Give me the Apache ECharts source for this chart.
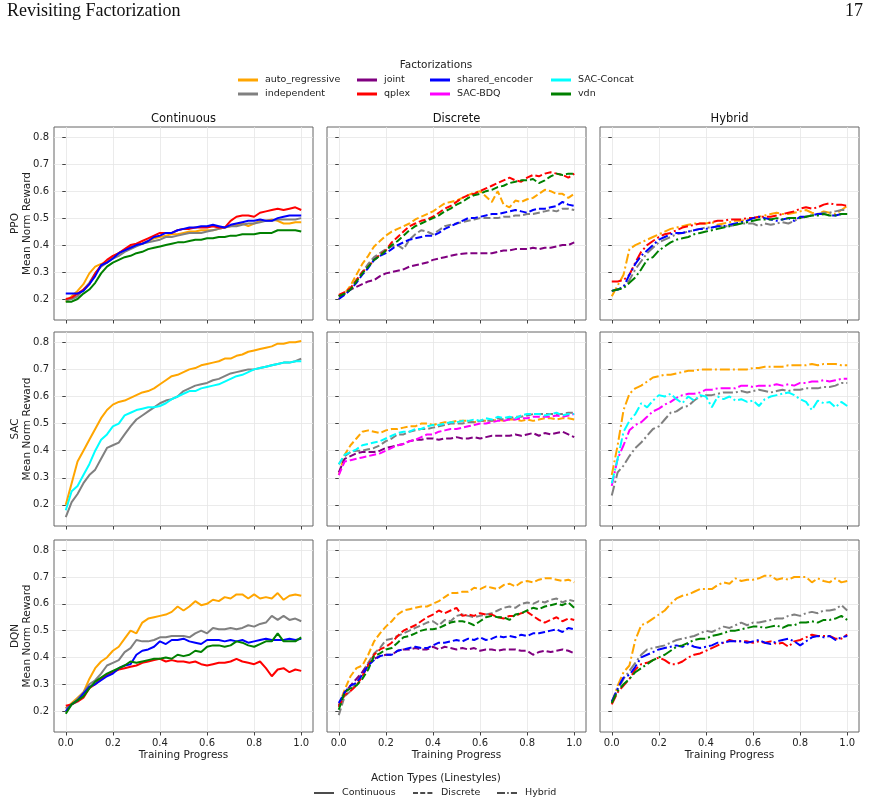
<!DOCTYPE html>
<html>
<head>
<meta charset="utf-8">
<script src="https://cdn.jsdelivr.net/npm/echarts@6/dist/echarts.min.js"></script>
<style>
  html, body { margin: 0; padding: 0; background: #fff; }
  #chart { width: 870px; height: 805px; }
</style>
</head>
<body>
<div id="chart"></div>
<script>
// x positions of the checkpoints (training progress)
const progress = [0, 0.025, 0.05, 0.075, 0.1, 0.125, 0.15, 0.175, 0.2, 0.225,
  0.25, 0.275, 0.3, 0.325, 0.35, 0.375, 0.4, 0.425, 0.45, 0.475,
  0.5, 0.525, 0.55, 0.575, 0.6, 0.625, 0.65, 0.675, 0.7, 0.725,
  0.75, 0.775, 0.8, 0.825, 0.85, 0.875, 0.9, 0.925, 0.95, 0.975, 1];

const xTicks = [0, 0.2, 0.4, 0.6, 0.8, 1];
const yTicks = [0.2, 0.3, 0.4, 0.5, 0.6, 0.7, 0.8];

const algoNames = ['PPO', 'SAC', 'DQN'];
const actionNames = ['Continuous', 'Discrete', 'Hybrid'];

// ---- PPO ----
const ppoContAuto = [0.19,0.21,0.23,0.255,0.295,0.32,0.33,0.335,0.355,0.37, 0.38,0.395,0.4,0.405,0.415,0.425,0.43,0.435,0.44,0.44, 0.445,0.45,0.45,0.455,0.455,0.455,0.46,0.465,0.47,0.475, 0.48,0.47,0.48,0.49,0.49,0.495,0.49,0.48,0.48,0.485, 0.485];
const ppoContInd = [0.195,0.2,0.21,0.235,0.26,0.295,0.32,0.335,0.35,0.36, 0.375,0.385,0.395,0.405,0.41,0.415,0.42,0.43,0.43,0.435, 0.44,0.445,0.445,0.445,0.45,0.455,0.46,0.465,0.47,0.47, 0.475,0.48,0.48,0.485,0.49,0.49,0.495,0.495,0.495,0.495, 0.5];
const ppoContQplex = [0.2,0.205,0.22,0.235,0.255,0.295,0.325,0.345,0.36,0.37, 0.385,0.4,0.405,0.415,0.425,0.435,0.445,0.445,0.445,0.455, 0.46,0.46,0.465,0.465,0.465,0.47,0.465,0.465,0.49,0.505, 0.51,0.51,0.505,0.52,0.525,0.53,0.535,0.53,0.535,0.54, 0.53];
const ppoContShared = [0.22,0.22,0.22,0.23,0.255,0.285,0.325,0.335,0.35,0.37, 0.38,0.39,0.4,0.405,0.415,0.43,0.435,0.445,0.445,0.455, 0.46,0.465,0.465,0.47,0.47,0.475,0.47,0.465,0.475,0.48, 0.485,0.49,0.49,0.495,0.49,0.49,0.5,0.505,0.51,0.51, 0.51];
const ppoContVdn = [0.19,0.19,0.2,0.22,0.235,0.26,0.295,0.32,0.335,0.345, 0.355,0.36,0.37,0.375,0.385,0.39,0.395,0.4,0.405,0.41, 0.41,0.415,0.42,0.42,0.425,0.425,0.43,0.43,0.435,0.435, 0.44,0.44,0.44,0.445,0.445,0.445,0.455,0.455,0.455,0.455, 0.45];

const ppoDiscAuto = [0.2,0.22,0.25,0.29,0.33,0.36,0.395,0.415,0.435,0.45, 0.46,0.47,0.48,0.495,0.505,0.515,0.525,0.54,0.555,0.56, 0.565,0.575,0.585,0.595,0.6,0.58,0.56,0.6,0.55,0.54, 0.565,0.56,0.57,0.575,0.59,0.605,0.6,0.59,0.59,0.575, 0.59];
const ppoDiscInd = [0.21,0.22,0.24,0.27,0.3,0.33,0.355,0.37,0.385,0.395, 0.4,0.385,0.42,0.44,0.455,0.45,0.44,0.455,0.47,0.475, 0.48,0.485,0.49,0.495,0.5,0.5,0.5,0.5,0.505,0.505, 0.51,0.51,0.515,0.515,0.52,0.525,0.53,0.525,0.535,0.535, 0.53];
const ppoDiscJoint = [0.21,0.22,0.235,0.245,0.255,0.265,0.27,0.285,0.295,0.3, 0.305,0.31,0.32,0.325,0.33,0.335,0.345,0.35,0.355,0.36, 0.365,0.368,0.37,0.37,0.37,0.37,0.37,0.375,0.38,0.38, 0.385,0.385,0.385,0.39,0.385,0.39,0.39,0.395,0.4,0.4, 0.41];
const ppoDiscQplex = [0.215,0.225,0.24,0.27,0.3,0.32,0.345,0.365,0.38,0.41, 0.43,0.45,0.47,0.48,0.49,0.495,0.505,0.52,0.535,0.545, 0.56,0.575,0.585,0.59,0.6,0.61,0.62,0.63,0.64,0.65, 0.64,0.635,0.65,0.66,0.655,0.665,0.67,0.665,0.66,0.65, 0.665];
const ppoDiscShared = [0.2,0.215,0.235,0.26,0.29,0.315,0.345,0.36,0.37,0.385, 0.4,0.41,0.42,0.425,0.43,0.435,0.435,0.445,0.46,0.47, 0.48,0.49,0.5,0.5,0.505,0.51,0.515,0.515,0.52,0.525, 0.53,0.525,0.52,0.53,0.535,0.535,0.54,0.545,0.56,0.55, 0.545];
const ppoDiscVdn = [0.21,0.22,0.235,0.265,0.295,0.32,0.345,0.36,0.38,0.4, 0.415,0.435,0.455,0.47,0.48,0.49,0.5,0.51,0.525,0.535, 0.55,0.56,0.575,0.585,0.59,0.6,0.605,0.615,0.62,0.63, 0.635,0.64,0.64,0.645,0.63,0.64,0.655,0.665,0.66,0.665, 0.665];

const ppoHybAuto = [0.21,0.25,0.29,0.385,0.4,0.41,0.42,0.43,0.44,0.45, 0.46,0.465,0.47,0.475,0.48,0.48,0.48,0.485,0.475,0.48, 0.485,0.49,0.49,0.495,0.5,0.505,0.51,0.515,0.52,0.515, 0.515,0.52,0.525,0.53,0.52,0.515,0.525,0.52,0.515,0.53, 0.545];
const ppoHybInd = [0.23,0.235,0.245,0.27,0.31,0.34,0.37,0.39,0.41,0.42, 0.43,0.44,0.445,0.45,0.455,0.46,0.465,0.465,0.47,0.47, 0.47,0.475,0.48,0.48,0.48,0.47,0.48,0.475,0.48,0.485, 0.48,0.49,0.5,0.505,0.51,0.515,0.52,0.52,0.525,0.53, 0.53];
const ppoHybQplex = [0.265,0.265,0.27,0.29,0.335,0.375,0.4,0.415,0.43,0.44, 0.445,0.455,0.465,0.47,0.475,0.48,0.48,0.485,0.49,0.49, 0.495,0.495,0.495,0.5,0.5,0.505,0.505,0.505,0.51,0.515, 0.52,0.525,0.535,0.54,0.535,0.54,0.55,0.555,0.55,0.55, 0.545];
const ppoHybShared = [0.23,0.235,0.245,0.29,0.33,0.36,0.38,0.4,0.42,0.43, 0.44,0.445,0.445,0.45,0.455,0.46,0.46,0.465,0.47,0.47, 0.475,0.48,0.485,0.49,0.5,0.505,0.5,0.495,0.49,0.495, 0.5,0.49,0.505,0.505,0.51,0.515,0.515,0.51,0.51,0.515, 0.515];
const ppoHybVdn = [0.23,0.235,0.24,0.26,0.28,0.31,0.345,0.355,0.38,0.395, 0.41,0.42,0.425,0.43,0.44,0.445,0.45,0.455,0.46,0.465, 0.47,0.475,0.48,0.485,0.49,0.495,0.495,0.495,0.5,0.495, 0.5,0.5,0.5,0.505,0.51,0.51,0.515,0.51,0.51,0.515, 0.515];

// ---- SAC ----
const sacContAuto = [0.2,0.28,0.36,0.4,0.44,0.48,0.52,0.55,0.57,0.58, 0.585,0.595,0.605,0.615,0.62,0.63,0.645,0.66,0.675,0.68, 0.69,0.7,0.705,0.715,0.72,0.725,0.73,0.74,0.74,0.75, 0.755,0.765,0.77,0.775,0.78,0.785,0.795,0.795,0.8,0.8, 0.805];
const sacContInd = [0.155,0.21,0.24,0.28,0.31,0.33,0.37,0.41,0.42,0.43, 0.46,0.49,0.515,0.53,0.545,0.56,0.575,0.585,0.59,0.6, 0.62,0.63,0.64,0.645,0.65,0.66,0.665,0.675,0.685,0.69, 0.695,0.7,0.7,0.705,0.71,0.715,0.72,0.725,0.725,0.73, 0.74];
const sacContConcat = [0.18,0.25,0.27,0.31,0.35,0.4,0.44,0.46,0.49,0.5, 0.53,0.54,0.55,0.555,0.56,0.56,0.565,0.575,0.59,0.6, 0.61,0.62,0.62,0.63,0.635,0.64,0.645,0.655,0.665,0.675, 0.68,0.69,0.7,0.705,0.71,0.715,0.72,0.725,0.725,0.73, 0.73];

const sacDiscAuto = [0.31,0.385,0.42,0.445,0.47,0.475,0.47,0.465,0.475,0.48, 0.48,0.485,0.49,0.49,0.5,0.5,0.495,0.5,0.505,0.505, 0.51,0.51,0.51,0.505,0.51,0.51,0.51,0.515,0.51,0.515, 0.515,0.51,0.515,0.51,0.515,0.52,0.52,0.515,0.52,0.52, 0.515];
const sacDiscInd = [0.35,0.38,0.395,0.4,0.4,0.405,0.41,0.42,0.435,0.445, 0.46,0.46,0.47,0.475,0.48,0.48,0.485,0.49,0.495,0.5, 0.5,0.5,0.505,0.505,0.51,0.51,0.51,0.52,0.515,0.52, 0.525,0.525,0.53,0.535,0.535,0.535,0.535,0.535,0.535,0.54, 0.54];
const sacDiscJoint = [0.32,0.37,0.38,0.39,0.395,0.395,0.395,0.4,0.41,0.415, 0.42,0.425,0.435,0.44,0.44,0.445,0.445,0.44,0.445,0.445, 0.45,0.445,0.445,0.45,0.445,0.45,0.455,0.455,0.455,0.455, 0.46,0.455,0.46,0.465,0.455,0.465,0.46,0.465,0.47,0.46, 0.45];
const sacDiscBdq = [0.31,0.36,0.365,0.37,0.375,0.38,0.385,0.39,0.4,0.41, 0.42,0.425,0.435,0.44,0.45,0.46,0.46,0.47,0.475,0.48, 0.48,0.485,0.49,0.495,0.5,0.5,0.505,0.51,0.51,0.515, 0.515,0.52,0.52,0.525,0.525,0.525,0.525,0.53,0.525,0.53, 0.535];
const sacDiscConcat = [0.35,0.385,0.395,0.405,0.42,0.425,0.43,0.435,0.445,0.455, 0.465,0.47,0.47,0.48,0.48,0.49,0.495,0.495,0.5,0.505, 0.505,0.51,0.51,0.515,0.51,0.52,0.515,0.525,0.52,0.525, 0.52,0.53,0.535,0.535,0.535,0.53,0.535,0.54,0.53,0.535, 0.535];

const sacHybAuto = [0.31,0.42,0.55,0.61,0.63,0.64,0.655,0.67,0.675,0.68, 0.68,0.685,0.69,0.695,0.695,0.7,0.7,0.7,0.7,0.7, 0.7,0.7,0.7,0.7,0.705,0.705,0.71,0.71,0.71,0.71, 0.715,0.715,0.715,0.715,0.72,0.715,0.72,0.72,0.72,0.715, 0.715];
const sacHybInd = [0.235,0.32,0.345,0.38,0.41,0.43,0.455,0.48,0.49,0.515, 0.54,0.545,0.56,0.565,0.585,0.6,0.605,0.605,0.61,0.615, 0.615,0.615,0.62,0.615,0.62,0.625,0.62,0.615,0.62,0.625, 0.62,0.625,0.625,0.63,0.63,0.63,0.635,0.635,0.64,0.65, 0.65];
const sacHybBdq = [0.27,0.37,0.42,0.475,0.495,0.505,0.525,0.545,0.555,0.57, 0.58,0.595,0.605,0.61,0.61,0.615,0.625,0.625,0.63,0.63, 0.63,0.63,0.64,0.64,0.635,0.64,0.64,0.64,0.645,0.64, 0.645,0.64,0.65,0.65,0.655,0.655,0.66,0.655,0.66,0.665, 0.665];
const sacHybConcat = [0.28,0.37,0.47,0.51,0.535,0.575,0.56,0.585,0.605,0.6, 0.61,0.59,0.575,0.6,0.585,0.605,0.6,0.56,0.6,0.59, 0.6,0.585,0.59,0.58,0.585,0.565,0.59,0.6,0.605,0.61, 0.615,0.605,0.59,0.58,0.55,0.585,0.575,0.58,0.56,0.58, 0.565];

// ---- DQN ----
const dqnContAuto = [0.21,0.23,0.25,0.27,0.32,0.36,0.385,0.4,0.425,0.44, 0.47,0.5,0.49,0.53,0.545,0.55,0.555,0.56,0.57,0.59, 0.575,0.59,0.61,0.595,0.6,0.615,0.61,0.625,0.62,0.635, 0.635,0.62,0.635,0.62,0.625,0.62,0.64,0.615,0.63,0.635, 0.63];
const dqnContInd = [0.21,0.225,0.245,0.27,0.3,0.315,0.34,0.37,0.38,0.39, 0.42,0.435,0.465,0.46,0.46,0.465,0.475,0.475,0.48,0.48, 0.48,0.475,0.49,0.5,0.49,0.51,0.505,0.505,0.51,0.505, 0.51,0.52,0.515,0.525,0.53,0.555,0.54,0.555,0.54,0.545, 0.535];
const dqnContQplex = [0.22,0.225,0.235,0.25,0.285,0.3,0.32,0.335,0.345,0.355, 0.36,0.365,0.37,0.38,0.385,0.39,0.395,0.385,0.39,0.385, 0.385,0.38,0.385,0.375,0.37,0.375,0.38,0.38,0.385,0.395, 0.385,0.38,0.375,0.385,0.36,0.33,0.355,0.36,0.345,0.355, 0.35];
const dqnContShared = [0.2,0.225,0.24,0.265,0.29,0.3,0.315,0.33,0.34,0.36, 0.37,0.375,0.41,0.425,0.43,0.44,0.46,0.45,0.465,0.465, 0.47,0.46,0.455,0.45,0.465,0.465,0.465,0.46,0.465,0.46, 0.465,0.455,0.46,0.465,0.47,0.465,0.465,0.465,0.47,0.465, 0.47];
const dqnContVdn = [0.19,0.225,0.24,0.255,0.285,0.31,0.325,0.34,0.35,0.36, 0.37,0.385,0.38,0.385,0.39,0.395,0.395,0.4,0.395,0.41, 0.405,0.41,0.425,0.42,0.44,0.445,0.445,0.44,0.445,0.46, 0.455,0.445,0.44,0.45,0.46,0.46,0.49,0.46,0.46,0.46, 0.475];

const dqnDiscAuto = [0.22,0.28,0.33,0.36,0.37,0.41,0.46,0.49,0.515,0.535, 0.56,0.575,0.58,0.585,0.59,0.59,0.6,0.61,0.625,0.64, 0.64,0.645,0.645,0.66,0.655,0.665,0.66,0.655,0.67,0.675, 0.665,0.68,0.685,0.68,0.69,0.695,0.695,0.69,0.685,0.69, 0.68];
const dqnDiscInd = [0.185,0.255,0.275,0.305,0.345,0.38,0.415,0.435,0.465,0.47, 0.48,0.49,0.5,0.51,0.52,0.53,0.535,0.52,0.54,0.535, 0.555,0.56,0.555,0.55,0.555,0.56,0.565,0.575,0.585,0.59, 0.585,0.6,0.605,0.6,0.61,0.605,0.615,0.62,0.605,0.615, 0.61];
const dqnDiscJoint = [0.22,0.27,0.295,0.32,0.345,0.375,0.395,0.405,0.41,0.41, 0.425,0.43,0.43,0.435,0.43,0.43,0.44,0.43,0.44,0.435, 0.43,0.435,0.43,0.435,0.425,0.43,0.43,0.425,0.43,0.43, 0.43,0.425,0.425,0.41,0.42,0.425,0.42,0.425,0.43,0.425, 0.415];
const dqnDiscQplex = [0.215,0.26,0.275,0.295,0.33,0.37,0.41,0.43,0.44,0.455, 0.48,0.5,0.51,0.52,0.535,0.55,0.56,0.575,0.565,0.575, 0.585,0.555,0.56,0.555,0.565,0.56,0.56,0.55,0.545,0.555, 0.555,0.565,0.57,0.555,0.54,0.53,0.54,0.55,0.535,0.545, 0.54];
const dqnDiscShared = [0.23,0.27,0.295,0.305,0.335,0.37,0.39,0.405,0.41,0.41, 0.425,0.43,0.435,0.44,0.435,0.435,0.445,0.455,0.455,0.46, 0.465,0.46,0.47,0.465,0.475,0.465,0.47,0.48,0.475,0.48, 0.475,0.485,0.48,0.49,0.49,0.495,0.5,0.505,0.495,0.51, 0.505];
const dqnDiscVdn = [0.205,0.27,0.285,0.295,0.32,0.355,0.405,0.415,0.43,0.435, 0.455,0.475,0.48,0.49,0.5,0.505,0.505,0.51,0.52,0.53, 0.535,0.535,0.53,0.52,0.535,0.55,0.555,0.55,0.55,0.54, 0.56,0.565,0.575,0.585,0.58,0.59,0.595,0.6,0.595,0.605, 0.585];

const dqnHybAuto = [0.23,0.295,0.345,0.37,0.465,0.52,0.53,0.545,0.56,0.575, 0.6,0.62,0.63,0.635,0.645,0.655,0.655,0.655,0.67,0.68, 0.675,0.695,0.685,0.69,0.69,0.695,0.705,0.705,0.69,0.695, 0.69,0.7,0.7,0.7,0.68,0.695,0.685,0.68,0.695,0.68, 0.685];
const dqnHybInd = [0.235,0.28,0.32,0.35,0.38,0.41,0.43,0.435,0.44,0.445, 0.455,0.465,0.47,0.475,0.48,0.49,0.5,0.495,0.505,0.515, 0.51,0.52,0.53,0.52,0.53,0.53,0.535,0.54,0.545,0.545, 0.555,0.56,0.555,0.565,0.57,0.565,0.575,0.575,0.58,0.595, 0.575];
const dqnHybQplex = [0.225,0.27,0.295,0.32,0.355,0.375,0.38,0.39,0.4,0.39, 0.375,0.375,0.385,0.4,0.41,0.415,0.425,0.435,0.445,0.455, 0.465,0.46,0.46,0.46,0.455,0.46,0.455,0.46,0.45,0.455, 0.44,0.46,0.465,0.475,0.485,0.48,0.48,0.48,0.47,0.47, 0.485];
const dqnHybShared = [0.235,0.285,0.325,0.335,0.365,0.4,0.41,0.42,0.43,0.435, 0.44,0.445,0.44,0.45,0.44,0.435,0.44,0.445,0.455,0.455, 0.46,0.46,0.46,0.455,0.46,0.465,0.455,0.45,0.46,0.465, 0.47,0.46,0.445,0.46,0.475,0.48,0.475,0.48,0.465,0.475, 0.48];
const dqnHybVdn = [0.23,0.275,0.3,0.32,0.345,0.36,0.375,0.39,0.4,0.41, 0.425,0.44,0.445,0.455,0.465,0.47,0.47,0.48,0.485,0.49, 0.5,0.5,0.505,0.51,0.515,0.515,0.51,0.515,0.52,0.51, 0.52,0.52,0.53,0.53,0.535,0.53,0.54,0.54,0.545,0.555, 0.54];

const colors = {
  auto_regressive: '#ffa500', independent: '#808080', joint: '#800080', qplex: '#ff0000',
  shared_encoder: '#0000ff', 'SAC-BDQ': '#ff00ff', 'SAC-Concat': '#00ffff', vdn: '#008000'
};
const dashes = [[], [7, 3], [10, 3, 2, 3]];   // continuous / discrete / hybrid

const panels = [
  [['auto_regressive', ppoContAuto], ['independent', ppoContInd], ['qplex', ppoContQplex], ['shared_encoder', ppoContShared], ['vdn', ppoContVdn]],
  [['auto_regressive', ppoDiscAuto], ['independent', ppoDiscInd], ['joint', ppoDiscJoint], ['qplex', ppoDiscQplex], ['shared_encoder', ppoDiscShared], ['vdn', ppoDiscVdn]],
  [['auto_regressive', ppoHybAuto], ['independent', ppoHybInd], ['qplex', ppoHybQplex], ['shared_encoder', ppoHybShared], ['vdn', ppoHybVdn]],
  [['auto_regressive', sacContAuto], ['independent', sacContInd], ['SAC-Concat', sacContConcat]],
  [['auto_regressive', sacDiscAuto], ['independent', sacDiscInd], ['joint', sacDiscJoint], ['SAC-BDQ', sacDiscBdq], ['SAC-Concat', sacDiscConcat]],
  [['auto_regressive', sacHybAuto], ['independent', sacHybInd], ['SAC-BDQ', sacHybBdq], ['SAC-Concat', sacHybConcat]],
  [['auto_regressive', dqnContAuto], ['independent', dqnContInd], ['qplex', dqnContQplex], ['shared_encoder', dqnContShared], ['vdn', dqnContVdn]],
  [['auto_regressive', dqnDiscAuto], ['independent', dqnDiscInd], ['joint', dqnDiscJoint], ['qplex', dqnDiscQplex], ['shared_encoder', dqnDiscShared], ['vdn', dqnDiscVdn]],
  [['auto_regressive', dqnHybAuto], ['independent', dqnHybInd], ['qplex', dqnHybQplex], ['shared_encoder', dqnHybShared], ['vdn', dqnHybVdn]]
];

const gridLeft = [54, 327, 600];
const gridTop = [127, 332, 540];
const gridH = [193, 194, 192];
const gridW = 259;

let grids = [], xAxes = [], yAxes = [], series = [];
panels.forEach((lines, i) => {
  const row = Math.floor(i / 3), col = i % 3;
  grids.push({
    left: gridLeft[col], top: gridTop[row], width: gridW, height: gridH[row],
    show: true, borderColor: '#666', borderWidth: 1
  });
  xAxes.push({
    gridIndex: i, type: 'value', min: -0.05, max: 1.05,
    axisLine: {show: false},
    axisTick: {show: true, length: 3.5, customValues: xTicks, lineStyle: {color: '#444'}},
    axisLabel: {show: row === 2, customValues: xTicks, formatter: v => v.toFixed(1), fontSize: 10, color: '#222', margin: 6},
    splitLine: {show: true, lineStyle: {color: '#e6e6e6', width: 0.8}},
    name: row === 2 ? 'Training Progress' : '', nameLocation: 'middle', nameGap: 18,
    nameTextStyle: {fontSize: 10.5, color: '#222'}
  });
  yAxes.push({
    gridIndex: i, type: 'value', min: 0.122, max: 0.838,
    axisLine: {show: false},
    axisTick: {show: true, length: 3.5, customValues: yTicks, lineStyle: {color: '#444'}},
    axisLabel: {show: col === 0, customValues: yTicks, formatter: v => v.toFixed(1), fontSize: 10, color: '#222', margin: 5},
    splitLine: {show: true, lineStyle: {color: '#e6e6e6', width: 0.8}},
    name: col === 0 ? algoNames[row] + '\nMean Norm Reward' : '', nameLocation: 'middle', nameRotate: 90,
    nameGap: 21, nameMoveOverlap: false,
    nameTextStyle: {fontSize: 10.5, color: '#222', lineHeight: 12}
  });
  lines.forEach(([name, vals]) => {
    series.push({
      type: 'line', name: name, xAxisIndex: i, yAxisIndex: i,
      data: progress.map((x, k) => [x, vals[k]]),
      showSymbol: false, symbol: 'none', silent: true,
      color: colors[name],
      lineStyle: {width: 2, color: colors[name], type: col === 0 ? 'solid' : dashes[col]}
    });
  });
});

const legendCols = [
  {left: 238, data: ['auto_regressive', 'independent']},
  {left: 357, data: ['joint', 'qplex']},
  {left: 430, data: ['shared_encoder', 'SAC-BDQ']},
  {left: 551, data: ['SAC-Concat', 'vdn']}
];
const legends = legendCols.map(c => ({
  left: c.left, top: 74, orient: 'vertical', padding: 0, itemGap: 2,
  itemWidth: 20, itemHeight: 3, icon: 'rect', selectedMode: false,
  textStyle: {fontSize: 9.5, color: '#222', lineHeight: 12, padding: [0, 0, 0, 2]},
  data: c.data
}));

const graphics = [
  {type: 'text', left: 7, top: 2, style: {text: 'Revisiting Factorization', font: '18px "Liberation Serif"', fill: '#111'}},
  {type: 'text', right: 7, top: 2, style: {text: '17', font: '18px "Liberation Serif"', fill: '#111'}},
  {type: 'text', x: 436, y: 65, style: {text: 'Factorizations', font: '10.5px "DejaVu Sans"', fill: '#222', align: 'center', verticalAlign: 'middle'}},
  {type: 'text', x: 436, y: 778, style: {text: 'Action Types (Linestyles)', font: '10.5px "DejaVu Sans"', fill: '#222', align: 'center', verticalAlign: 'middle'}}
];
actionNames.forEach((t, c) => {
  graphics.push({type: 'text', x: gridLeft[c] + gridW / 2, y: 119,
    style: {text: t, font: '11.5px "DejaVu Sans"', fill: '#111', align: 'center', verticalAlign: 'middle'}});
});
const styleLegend = [[314, 'Continuous'], [413, 'Discrete'], [497, 'Hybrid']];
styleLegend.forEach(([x0, label], c) => {
  graphics.push({type: 'line', shape: {x1: x0, y1: 793, x2: x0 + 20, y2: 793},
    style: {stroke: '#111', lineWidth: 1.5, lineDash: c === 0 ? null : (c === 1 ? [5, 2.2] : [8, 2.2, 1.5, 2.2])}});
  graphics.push({type: 'text', x: x0 + 28, y: 793,
    style: {text: label, font: '9.5px "DejaVu Sans"', fill: '#222', verticalAlign: 'middle'}});
});

const chart = echarts.init(document.getElementById('chart'), null, {renderer: 'canvas'});
chart.setOption({
  animation: false,
  backgroundColor: '#fff',
  textStyle: {fontFamily: 'DejaVu Sans'},
  grid: grids,
  xAxis: xAxes,
  yAxis: yAxes,
  legend: legends,
  graphic: graphics,
  series: series
});
</script>
</body>
</html>
